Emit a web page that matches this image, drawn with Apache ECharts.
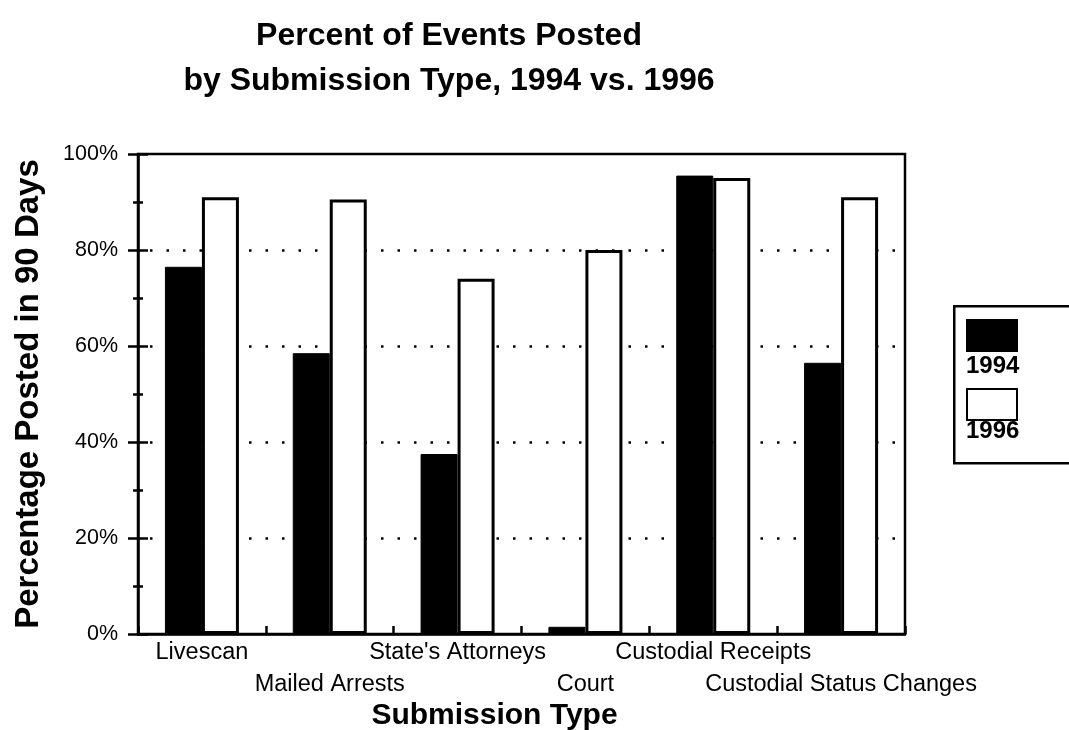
<!DOCTYPE html>
<html>
<head>
<meta charset="utf-8">
<script src="https://cdn.jsdelivr.net/npm/echarts@6/dist/echarts.min.js"></script>
<style>
  html, body { margin: 0; padding: 0; background: #fff; }
  #chart { width: 1069px; height: 730px; }
</style>
</head>
<body>
<div id="chart"></div>
<script>
// Submission types along the x axis
const categories = ['Livescan', 'Mailed Arrests', "State's Attorneys", 'Court', 'Custodial Receipts', 'Custodial Status Changes'];
// Percent of events posted within 90 days
const years = ['1994', '1996'];
const posted1994 = [76.5, 58.5, 37.5, 1.5, 95.5, 56.5];
const posted1996 = [91, 90.5, 74, 80, 95, 91];
// Value axis ticks
const yMin = 0, yMax = 100, yStep = 20;

const FONT = "'Liberation Sans', Arial, Helvetica, sans-serif";
const chart = echarts.init(document.getElementById('chart'), null, { renderer: 'canvas' });

const grid = { left: 138, top: 154, right: 164, bottom: 96 };

chart.setOption({
  backgroundColor: '#ffffff',
  animation: false,
  title: {
    text: 'Percent of Events Posted\nby Submission Type, 1994 vs. 1996',
    left: 449, top: 14, textAlign: 'center',
    padding: 0,
    textStyle: { fontFamily: FONT, fontWeight: 'bold', fontSize: 32, lineHeight: 45, color: '#000' }
  },
  grid: Object.assign({
    show: true, borderColor: '#000', borderWidth: 2.5, backgroundColor: 'transparent',
    containLabel: false, outerBoundsMode: 'none'
  }, grid),
  legend: {
    data: years,
    orient: 'vertical',
    left: 966, top: 319,
    icon: 'rect',
    itemWidth: 50, itemHeight: 31, itemGap: 36,
    padding: 0,
    formatter: () => '',
    selectedMode: false,
    textStyle: { fontSize: 1 }
  },
  graphic: [
    { type: 'rect', left: 953, top: 305, z: -1,
      shape: { width: 140, height: 157 },
      style: { fill: '#fff', stroke: '#000', lineWidth: 2.5 } },
    { type: 'text', left: 966, top: 354, z: 10,
      style: { text: years[0], font: "bold 24px 'Liberation Sans', Arial, sans-serif", fill: '#000' } },
    { type: 'text', left: 966, top: 419, z: 10,
      style: { text: years[1], font: "bold 24px 'Liberation Sans', Arial, sans-serif", fill: '#000' } }
  ],
  xAxis: {
    type: 'category',
    data: categories,
    name: 'Submission Type',
    nameLocation: 'middle',
    nameGap: 67,
    nameMoveOverlap: false,
    nameTextStyle: { fontFamily: FONT, fontWeight: 'bold', fontSize: 30, color: '#000', padding: [0, 54, 0, 0] },
    axisLine: { show: true, lineStyle: { color: '#000', width: 2.5 } },
    axisTick: { show: true, inside: true, length: 8, lineStyle: { color: '#000', width: 2.5 } },
    axisLabel: {
      interval: 0, margin: 3,
      fontFamily: FONT, fontSize: 23.5, lineHeight: 32, color: '#000',
      formatter: (v, i) => (i % 2 ? '\n' + v : v)
    },
    splitLine: { show: false }
  },
  yAxis: [
    {
      type: 'value', min: yMin, max: yMax, interval: yStep,
      name: 'Percentage Posted in 90 Days',
      nameLocation: 'middle',
      nameGap: 93,
      nameMoveOverlap: false,
      nameTextStyle: { fontFamily: FONT, fontWeight: 'bold', fontSize: 33, color: '#000' },
      axisLine: { show: true, lineStyle: { color: '#000', width: 2.5 } },
      axisTick: { show: true, inside: false, length: 10, lineStyle: { color: '#000', width: 2.5 } },
      minorTick: { show: true, splitNumber: 2, length: 5, lineStyle: { color: '#000', width: 2.5 } },
      axisLabel: { margin: 20, fontFamily: FONT, fontSize: 21.5, color: '#000', formatter: '{value}%' },
      splitLine: {
        show: true, showMinLine: false, showMaxLine: false,
        lineStyle: { color: '#000', width: 2.5, type: [2.5, 14], dashOffset: -12 }
      }
    },
    {
      type: 'value', min: yMin, max: yMax, interval: yStep, position: 'left',
      axisLine: { show: false },
      axisTick: { show: true, inside: true, length: 10, lineStyle: { color: '#000', width: 2.5 } },
      minorTick: { show: true, splitNumber: 2, length: 5, lineStyle: { color: '#000', width: 2.5 } },
      axisLabel: { show: false },
      splitLine: { show: false }
    }
  ],
  series: [
    {
      name: years[0], type: 'bar', yAxisIndex: 0,
      data: posted1994,
      barWidth: 37, barGap: '0%',
      itemStyle: { color: '#000', borderColor: '#000', borderWidth: 1 }
    },
    {
      name: years[1], type: 'bar', yAxisIndex: 0,
      data: posted1996,
      barWidth: 37, barGap: '0%',
      itemStyle: { color: '#fff', borderColor: '#000', borderWidth: 3 }
    }
  ]
});
</script>
</body>
</html>
